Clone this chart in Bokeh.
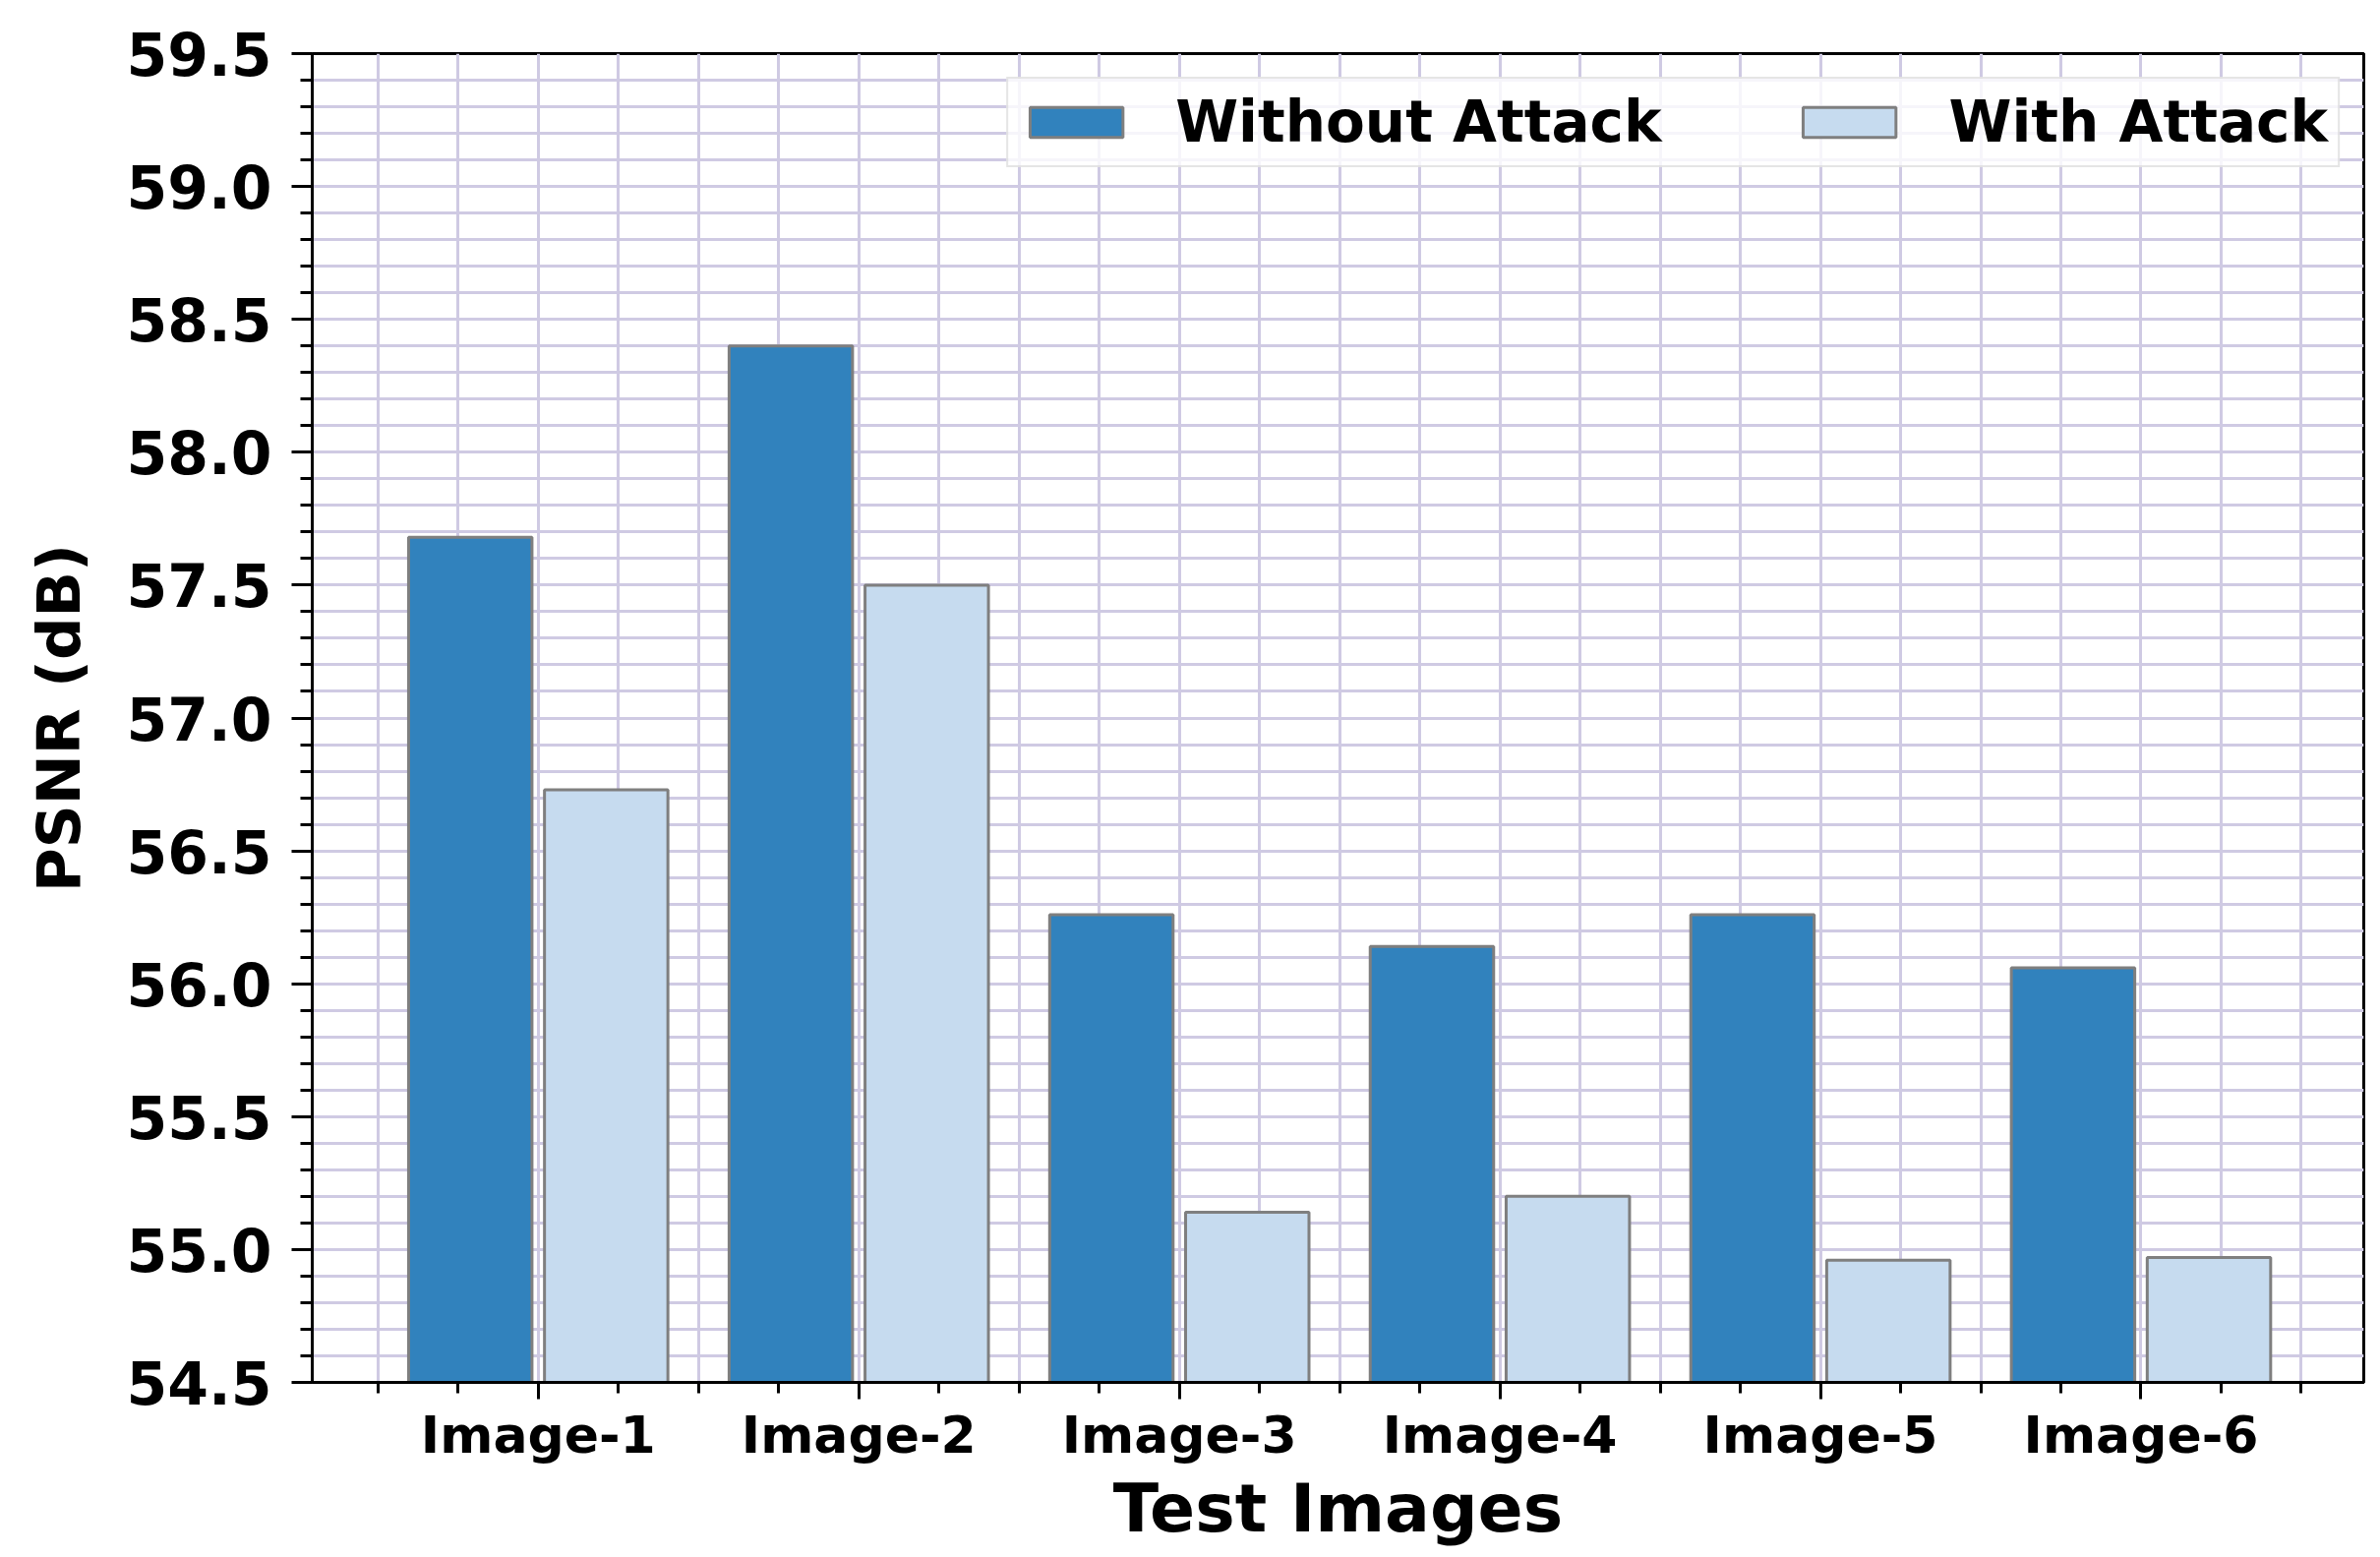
from bokeh.plotting import figure
from bokeh.models import ColumnDataSource, FixedTicker, NumeralTickFormatter, Range1d
from bokeh.transform import dodge
from bokeh.embed import file_html
from bokeh.resources import INLINE

# ---- data ----
categories = ["Image-1", "Image-2", "Image-3", "Image-4", "Image-5", "Image-6"]
without_attack = [57.68, 58.40, 56.26, 56.14, 56.26, 56.06]
with_attack = [56.73, 57.50, 55.14, 55.20, 54.96, 54.97]
y_major_ticks = [54.5, 55.0, 55.5, 56.0, 56.5, 57.0, 57.5, 58.0, 58.5, 59.0, 59.5]
series_names = ["Without Attack", "With Attack"]

x_idx = list(range(len(categories)))
source = ColumnDataSource(dict(x=x_idx, cat=categories, wo=without_attack, wa=with_attack))

FONT = "DejaVu Sans"
GRID = "#cfcae3"
DARK = "#3182bd"
LIGHT = "#c6dbef"
EDGE = "#7f7f7f"

p = figure(width=2412, height=1575,
           x_range=Range1d(-0.705, 5.695), y_range=Range1d(54.5, 59.5),
           output_backend="svg", toolbar_location=None,
           min_border_left=317, min_border_right=9,
           min_border_top=54, min_border_bottom=170)

p.background_fill_color = "white"
p.border_fill_color = "white"
p.outline_line_color = "black"
p.outline_line_width = 3

bw = 0.385
off = 0.212
p.vbar(x=dodge("x", -off, range=p.x_range), top="wo", bottom=54.5, width=bw,
       source=source, fill_color=DARK, line_color=EDGE, line_width=3,
       legend_label=series_names[0])
p.vbar(x=dodge("x", off, range=p.x_range), top="wa", bottom=54.5, width=bw,
       source=source, fill_color=LIGHT, line_color=EDGE, line_width=3,
       legend_label=series_names[1])

# ---- x axis ----
x_minor = [i * 0.25 for i in range(-2, 23) if i % 4 != 0]
p.xaxis.ticker = FixedTicker(ticks=x_idx, minor_ticks=x_minor)
p.xaxis.major_label_overrides = {i: c for i, c in zip(x_idx, categories)}
p.xaxis.major_label_text_font = FONT
p.xaxis.major_label_text_font_style = "bold"
p.xaxis.major_label_text_font_size = "52px"
p.xaxis.major_label_text_color = "black"
p.xaxis.major_label_standoff = 6
p.xaxis.major_tick_out = 17
p.xaxis.major_tick_in = 0
p.xaxis.minor_tick_out = 11
p.xaxis.minor_tick_in = 0
p.xaxis.axis_label = "Test Images"
p.xaxis.axis_label_text_font = FONT
p.xaxis.axis_label_text_font_style = "bold"
p.xaxis.axis_label_text_font_size = "68px"
p.xaxis.axis_label_text_color = "black"
p.xaxis.axis_label_standoff = 2

# ---- y axis ----
y_minor = [round(54.5 + i * 0.1, 1) for i in range(51) if i % 5 != 0]
p.yaxis.ticker = FixedTicker(ticks=y_major_ticks, minor_ticks=y_minor)
p.yaxis.formatter = NumeralTickFormatter(format="0.0")
p.yaxis.major_label_text_font = FONT
p.yaxis.major_label_text_font_style = "bold"
p.yaxis.major_label_text_font_size = "60px"
p.yaxis.major_label_text_color = "black"
p.yaxis.major_label_standoff = 20
p.yaxis.major_tick_out = 21
p.yaxis.major_tick_in = 0
p.yaxis.minor_tick_out = 12
p.yaxis.minor_tick_in = 0
p.yaxis.axis_label = "PSNR (dB)"
p.yaxis.axis_label_text_font = FONT
p.yaxis.axis_label_text_font_style = "bold"
p.yaxis.axis_label_text_font_size = "61px"
p.yaxis.axis_label_text_color = "black"
p.yaxis.axis_label_standoff = 30

for ax in (p.xaxis, p.yaxis):
    ax.axis_line_color = "black"
    ax.axis_line_width = 3
    ax.major_tick_line_color = "black"
    ax.major_tick_line_width = 3
    ax.minor_tick_line_color = "black"
    ax.minor_tick_line_width = 3

# ---- grid ----
for g in (p.xgrid, p.ygrid):
    g.grid_line_color = GRID
    g.grid_line_width = 3
    g.minor_grid_line_color = GRID
    g.minor_grid_line_width = 3

# ---- legend ----
lg = p.legend[0]
lg.location = "top_right"
lg.orientation = "horizontal"
lg.margin = 24
lg.padding = 10
lg.spacing = 132
lg.glyph_width = 118
lg.glyph_height = 38
lg.label_standoff = 42
lg.label_text_font = FONT
lg.label_text_font_style = "bold"
lg.label_text_font_size = "58px"
lg.label_text_color = "black"
lg.border_line_color = "#cccccc"
lg.border_line_width = 2
lg.background_fill_color = "white"
lg.background_fill_alpha = 0.8

open("out.html", "w").write(file_html(p, INLINE))
